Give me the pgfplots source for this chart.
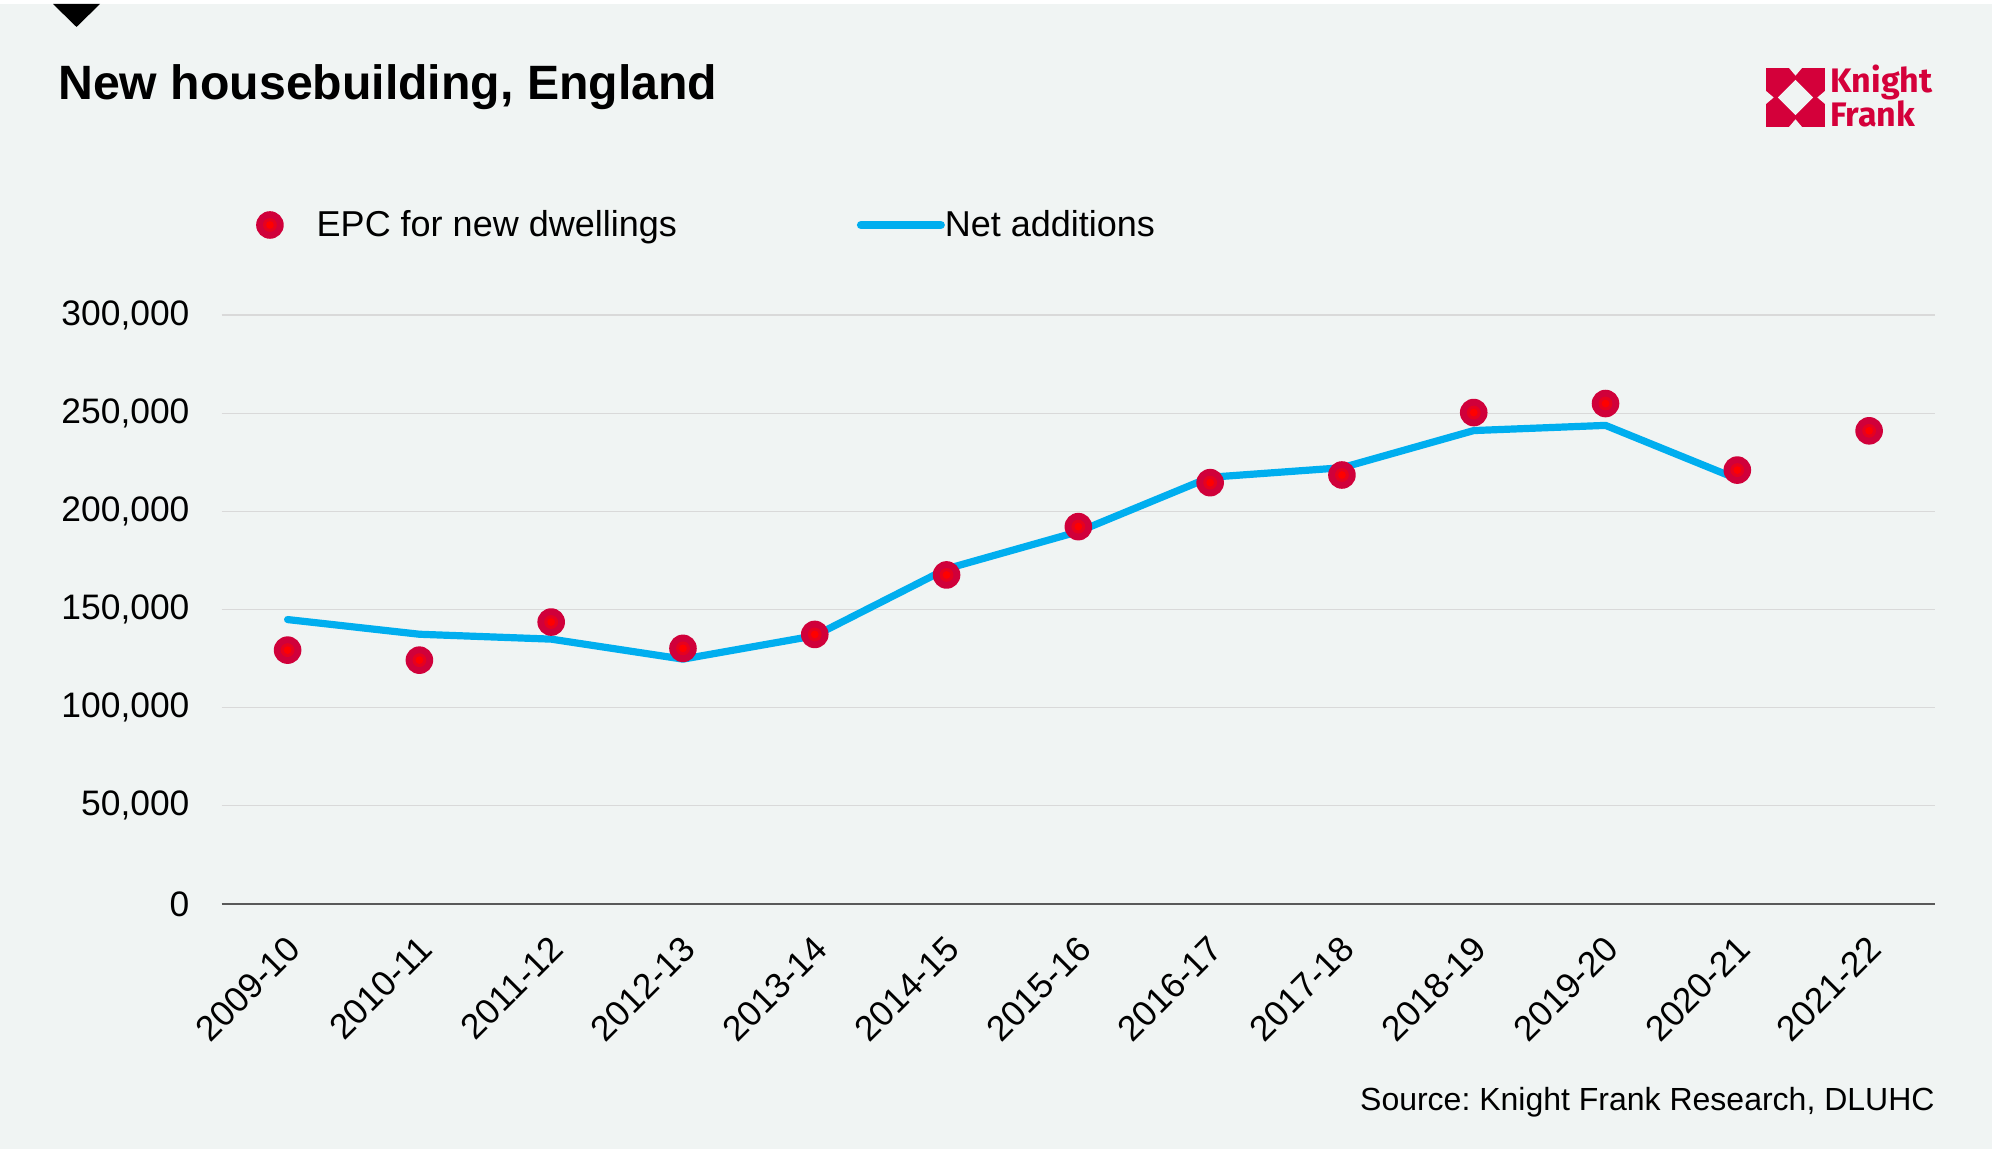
\documentclass[border=0pt]{standalone}
\usepackage{pgfplots}
\pgfplotsset{compat=1.18}
\usepackage{pgfplotstable}
\usepackage{fontspec}
\setmainfont{Liberation Sans}
\newfontfamily\logofont{Fira Sans}

\definecolor{bg}{HTML}{F0F4F3}
\definecolor{netblue}{HTML}{00AEEF}
\definecolor{epcred}{HTML}{D0003A}
\definecolor{epcmid}{HTML}{E6001F}
\definecolor{kfred}{HTML}{D4003A}
\definecolor{gridgray}{HTML}{D9D9D9}
\definecolor{axisgray}{HTML}{595959}

% dot with a brighter centre, as in the original
\pgfdeclareplotmark{epcdot}{%
  \pgfpathcircle{\pgfpointorigin}{\pgfplotmarksize}%
  \pgfsetfillcolor{epcred}\pgfusepathqfill
  \pgfpathcircle{\pgfpointorigin}{0.5\pgfplotmarksize}%
  \pgfsetfillcolor{epcmid}\pgfusepathqfill
  \pgfpathcircle{\pgfpointorigin}{0.28\pgfplotmarksize}%
  \pgfsetfillcolor{red}\pgfusepathqfill}

\pgfplotsset{
  linelegend/.style={legend image code/.code={\draw[##1, line width=4pt] (0pt,0pt) -- (40pt,0pt);}},
  dotlegend/.style={legend image code/.code={\draw[##1] plot coordinates {(0pt,0pt)};}},
}

\pgfplotstableread{
x epc
0 129300
1 124200
2 143600
3 130200
4 137300
5 167600
6 192200
7 214600
8 218500
9 250300
10 254900
11 221000
12 241000
}\epcdata

\pgfplotstableread{
x net
0 144870
1 137390
2 134900
3 124720
4 136610
5 170690
6 189650
7 217350
8 222190
9 241130
10 243770
11 216490
}\netdata

\begin{document}
\frenchspacing
\begin{tikzpicture}
\useasboundingbox[fill=bg] (0,0) rectangle (996pt,574.5pt);
\fill[white] (0,572.5pt) rectangle (996pt,574.5pt);
\fill[black] (26.5pt,572.5pt) -- (50pt,572.5pt) -- (38.25pt,561pt) -- cycle;

\node[anchor=base west, inner sep=0pt, font=\fontsize{24.1}{28}\selectfont\bfseries]
  at (29pt,524.9pt) {New housebuilding, England};

% logo
\begin{scope}[shift={(883pt,511pt)}, x=29.5pt, y=29.5pt]
  \fill[kfred] (0,0) rectangle (1,1);
  \fill[bg] (0.5,0.8) -- (0.8,0.5) -- (0.5,0.2) -- (0.2,0.5) -- cycle;
  \fill[bg] (0.39,1) -- (0.5,0.87) -- (0.61,1) -- cycle;
  \fill[bg] (0.39,0) -- (0.5,0.13) -- (0.61,0) -- cycle;
  \fill[bg] (0,0.39) -- (0.13,0.5) -- (0,0.61) -- cycle;
  \fill[bg] (1,0.39) -- (0.87,0.5) -- (1,0.61) -- cycle;
\end{scope}
\node[anchor=base west, inner sep=0pt, text=kfred, font=\logofont\bfseries\fontsize{17}{20}\selectfont]
  at (915pt,528.2pt) {Knight};
\node[anchor=base west, inner sep=0pt, text=kfred, font=\logofont\bfseries\fontsize{17}{20}\selectfont]
  at (915pt,511.2pt) {Frank};

\begin{axis}[
  at={(110.85pt,122.5pt)}, anchor=south west,
  scale only axis, width=856.65pt, height=294.5pt,
  xmin=-0.5, xmax=12.5, ymin=0, ymax=300000,
  xtick={0,...,12},
  xticklabels={2009-10,2010-11,2011-12,2012-13,2013-14,2014-15,2015-16,2016-17,2017-18,2018-19,2019-20,2020-21,2021-22},
  ytick={50000,100000,...,300000},
  extra y ticks={0},
  extra y tick style={ymajorgrids=true, major grid style={axisgray, line width=0.9pt}},
  ymajorgrids, major grid style={gridgray, line width=0.6pt},
  axis line style={draw=none},
  major tick length=0pt,
  scaled y ticks=false,
  tick label style={font=\fontsize{17.7}{21}\selectfont, text=black},
  yticklabel style={xshift=-12.6pt},
  xticklabel style={xshift=5.5pt, yshift=-17pt, rotate=45, anchor=east},
  /pgf/number format/fixed,
  /pgf/number format/precision=0,
  /pgf/number format/1000 sep={,},
  /pgf/number format/assume math mode=true,
  reverse legend,
  legend columns=-1,
  legend style={draw=none, fill=none, at={(0.0201,1.1528)}, anchor=west,
    inner sep=0pt, outer sep=0pt, nodes={inner sep=0pt},
    font=\fontsize{18}{21}\selectfont,
    /tikz/column 1/.append style={column sep=16.5pt},
    /tikz/column 2/.append style={column sep=90pt},
    /tikz/column 3/.append style={column sep=0pt}},
]
\addplot[netblue, line width=3.6pt, line cap=round, line join=round, mark=none, linelegend]
  table[x=x, y=net] {\netdata};
\addlegendentry{Net additions}
\addplot[only marks, mark=epcdot, mark size=6.9pt, dotlegend]
  table[x=x, y=epc] {\epcdata};
\addlegendentry{EPC for new dwellings}
\end{axis}

\node[anchor=base east, inner sep=0pt, font=\fontsize{16}{19}\selectfont]
  at (967.5pt,19pt) {Source: Knight Frank Research, DLUHC};
\end{tikzpicture}
\end{document}
